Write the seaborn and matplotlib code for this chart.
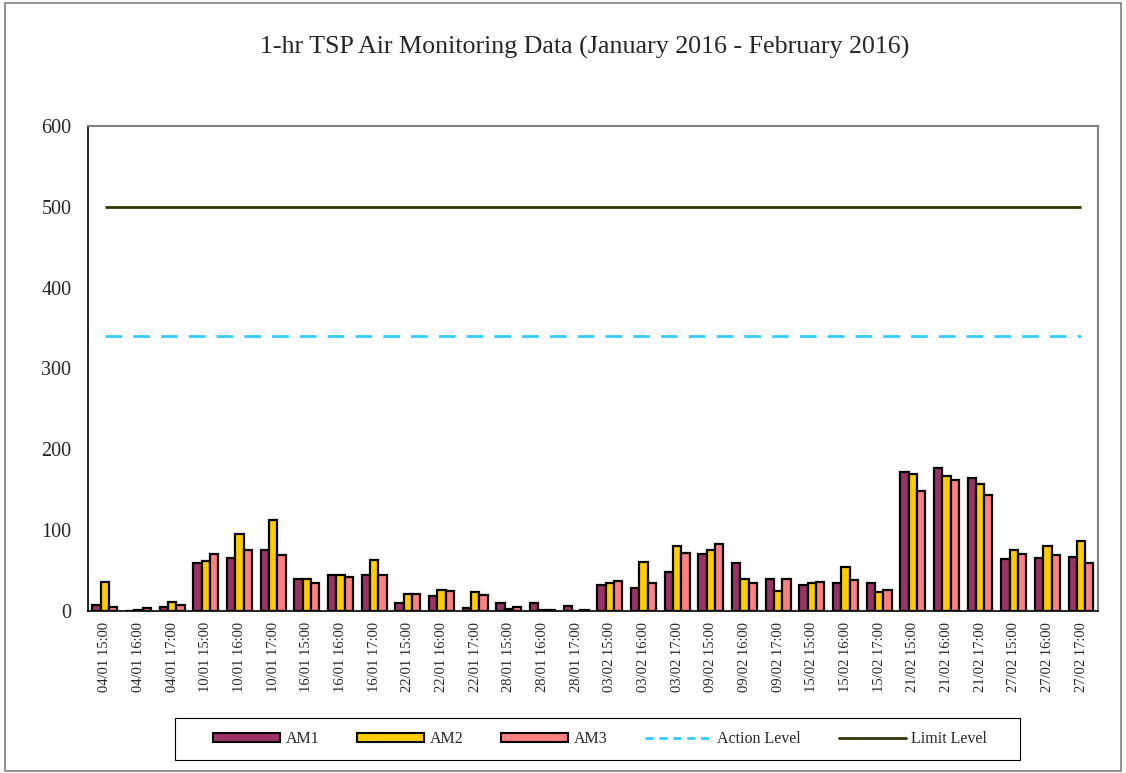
import numpy as np
import pandas as pd
import matplotlib
matplotlib.use('Agg')
import matplotlib.pyplot as plt
import seaborn as sns
from matplotlib.patches import Rectangle

times = ['04/01 15:00', '04/01 16:00', '04/01 17:00',
         '10/01 15:00', '10/01 16:00', '10/01 17:00',
         '16/01 15:00', '16/01 16:00', '16/01 17:00',
         '22/01 15:00', '22/01 16:00', '22/01 17:00',
         '28/01 15:00', '28/01 16:00', '28/01 17:00',
         '03/02 15:00', '03/02 16:00', '03/02 17:00',
         '09/02 15:00', '09/02 16:00', '09/02 17:00',
         '15/02 15:00', '15/02 16:00', '15/02 17:00',
         '21/02 15:00', '21/02 16:00', '21/02 17:00',
         '27/02 15:00', '27/02 16:00', '27/02 17:00']

am1 = [7, 0, 5, 59, 66, 75, 40, 44, 44, 10, 19, 4, 10, 10, 6,
       32, 28, 48, 71, 59, 39, 32, 34, 34, 172, 177, 165, 64, 66, 67]
am2 = [36, 1, 11, 62, 95, 112, 39, 44, 63, 21, 26, 23, 3, 1, 0,
       35, 61, 80, 75, 40, 25, 34, 54, 24, 169, 167, 157, 75, 80, 86]
am3 = [5, 4, 7, 71, 76, 69, 34, 42, 45, 21, 25, 20, 5, 1, 1,
       37, 35, 72, 83, 34, 40, 36, 38, 26, 149, 162, 144, 71, 69, 59]

action_level = 340
limit_level = 500

df = pd.DataFrame({'Time': times * 3,
                   'Value': am1 + am2 + am3,
                   'Station': ['AM1'] * 30 + ['AM2'] * 30 + ['AM3'] * 30})

pal = {'AM1': '#993366', 'AM2': '#FFCC00', 'AM3': '#FF8080'}

sns.set_style('white')
plt.rcParams['font.family'] = ['Liberation Serif', 'DejaVu Serif']

fig = plt.figure(figsize=(11.26, 7.73), dpi=100)
ax = fig.add_axes([0.0782, 0.2096, 0.8968, 0.6274])

sns.barplot(data=df, x='Time', y='Value', hue='Station', palette=pal,
            width=0.74, gap=0, edgecolor='black', linewidth=1.6,
            saturation=1, ax=ax, legend=False)

n = len(times)
ax.hlines(action_level, 0, n - 1, colors='#33CCFF', linestyles=(0, (6, 4)), linewidth=2)
ax.hlines(limit_level, 0, n - 1, colors='#333300', linewidth=2)

ax.set_xlim(-0.5, n - 0.5)
ax.set_ylim(0, 600)
ax.set_yticks(range(0, 601, 100))
ax.tick_params(axis='y', labelsize=14.5, direction='in', length=4, color='#808080', pad=12)
ax.set_xticks(range(n))
ax.set_xticklabels(times, rotation=90, fontsize=10.5)
ax.tick_params(axis='x', length=0, pad=8)
ax.set_xticks(np.arange(-0.5, n, 1), minor=True)
ax.tick_params(axis='x', which='minor', direction='in', length=4, color='#808080')
ax.set_xlabel('')
ax.set_ylabel('')

for s in ['top', 'right']:
    ax.spines[s].set_color('#808080')
    ax.spines[s].set_linewidth(1.5)
for s in ['left', 'bottom']:
    ax.spines[s].set_color('black')
    ax.spines[s].set_linewidth(1.2)

fig.suptitle('1-hr TSP Air Monitoring Data (January 2016 - February 2016)',
             fontsize=18.7, x=0.519, y=0.939, va='center')

handles = [Rectangle((0, 0), 1, 1, facecolor=pal[k], edgecolor='black', linewidth=1.5)
           for k in ['AM1', 'AM2', 'AM3']]
handles += [plt.Line2D([], [], color='#33CCFF', linestyle=(0, (3, 2)), linewidth=2),
            plt.Line2D([], [], color='#333300', linewidth=2)]
fig.legend(handles, ['AM1', 'AM2', 'AM3', 'Action Level', 'Limit Level'],
           loc='center', bbox_to_anchor=(0.533, 0.044), ncol=5, fontsize=11.5,
           frameon=False, handlelength=4.2, handleheight=0.45, columnspacing=2.35,
           handletextpad=0.35)

# legend box and chart border
fig.patches.append(Rectangle((175 / 1126, 1 - 760 / 773), 845 / 1126, 42 / 773,
                             transform=fig.transFigure, fill=False,
                             edgecolor='black', linewidth=0.8))
fig.patches.append(Rectangle((0.004, 0.003), 0.992, 0.993, transform=fig.transFigure,
                             fill=False, edgecolor='#808080', linewidth=1.2))

fig.savefig('out.png', dpi=100)
